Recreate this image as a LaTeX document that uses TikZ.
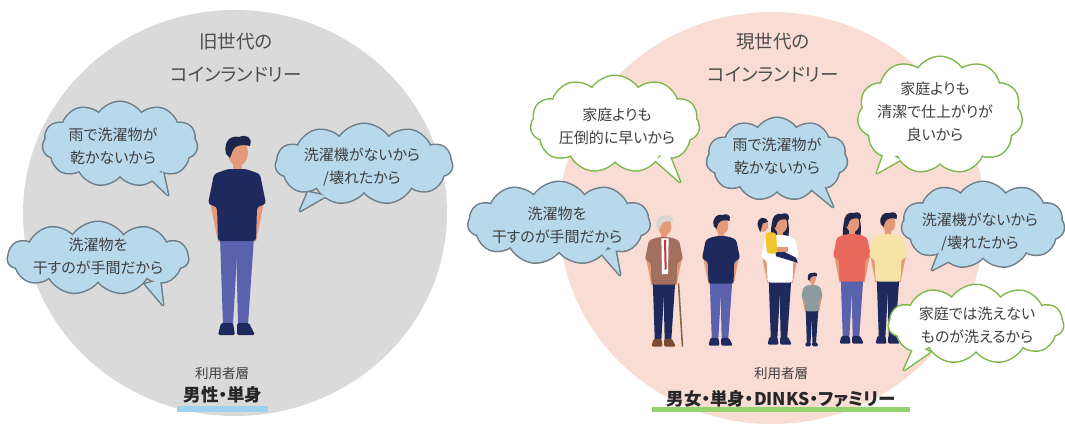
\documentclass[tikz,border=0pt]{standalone}
\usepackage{fontspec}
\setmainfont{Noto Sans CJK JP}[RawFeature=+palt]
\usetikzlibrary{shapes.symbols}

\definecolor{oldbg}{HTML}{DADADA}
\definecolor{newbg}{HTML}{F9DCD3}
\definecolor{bubblefill}{HTML}{B7D9EB}
\definecolor{bubbleedge}{HTML}{6E7E88}
\definecolor{greenedge}{HTML}{7DB84A}
\definecolor{inktext}{HTML}{3F3F3F}
\definecolor{titletext}{HTML}{4D4D4D}
\definecolor{bluebar}{HTML}{9DD3EE}
\definecolor{greenbar}{HTML}{93D36D}
\definecolor{navy}{HTML}{1E2A5E}
\definecolor{denim}{HTML}{5A62AE}
\definecolor{skin}{HTML}{E49A78}
\definecolor{hairdark}{HTML}{1F2548}
\definecolor{hairgrey}{HTML}{D9D6D2}
\definecolor{cardigan}{HTML}{A3705F}
\definecolor{coral}{HTML}{E8695B}
\definecolor{butter}{HTML}{F6E3A6}
\definecolor{shirtgray}{HTML}{8D9B9F}
\definecolor{sunny}{HTML}{F2C52E}
\definecolor{shoebrown}{HTML}{7A4A2C}
\definecolor{tiered}{HTML}{C8323A}
\definecolor{canebrown}{HTML}{8A6A4A}

% cloud-shaped speech bubble: name, centre, width, height, tail base, tip, tail base, edge colour, fill colour
\newcommand{\talkcloud}[9]{%
  \node[puffy, minimum width=#3, minimum height=#4, draw=#8, line width=3pt] (#1) at (#2) {};
  \draw[#8, line width=3pt, line join=round] (#5) -- (#6) -- (#7) -- cycle;
  \node[puffy, minimum width=#3, minimum height=#4, fill=#9] at (#1) {};
  \fill[#9] (#5) -- (#6) -- (#7) -- cycle;
}

\tikzset{
  puffy/.style={cloud, cloud puffs=11, cloud puff arc=115, cloud ignores aspect,
    inner sep=0pt, outer sep=0pt},
  cloudtext/.style={align=center, inner sep=0pt, text=inktext,
    font=\fontsize{15}{23}\selectfont},
  titletxt/.style={align=center, inner sep=0pt, text=titletext,
    font=\fontsize{18.5}{33}\selectfont},
  smalltxt/.style={inner sep=0pt, text=inktext, font=\fontsize{13.5}{16}\selectfont},
  groupTxt/.style={inner sep=0pt, text=black!85, font=\bfseries\fontsize{17.5}{20}\selectfont},
  person shirt/.store in=\pshirt,
  person pants/.store in=\ppants,
  person hair/.store in=\phair,
  person shoes/.store in=\pshoes,
  person shirt=navy, person pants=denim, person hair=hairdark, person shoes=navy,
  person/.pic={
    % arms
    \fill[skin] (-28,-140) -- (-20,-140) -- (-13,-98) -- (-19,-95) -- cycle;
    \fill[skin] (20,-140) -- (28,-140) -- (19,-95) -- (13,-98) -- cycle;
    % legs
    \fill[\ppants] (-17,-100) -- (1,-100) -- (-4,-12) -- (-14,-12) -- cycle;
    \fill[\ppants] (-1,-100) -- (17,-100) -- (11,-12) -- (1,-12) -- cycle;
    % shoes
    \fill[\pshoes, rounded corners=1.5] (-16,-14) -- (-4,-14) -- (-2,-2) -- (-19,-2) -- cycle;
    \fill[\pshoes, rounded corners=1.5] (0,-14) -- (12,-14) -- (18,-2) -- (0,-2) -- cycle;
    % neck
    \fill[skin] (-4,-175) rectangle (5,-163);
    % shirt
    \fill[\pshirt, rounded corners=3] (-9,-168) -- (9,-168) -- (23,-163) -- (29,-133)
      -- (20,-130) -- (19,-96) -- (-19,-96) -- (-20,-130) -- (-29,-133) -- (-23,-163) -- cycle;
    % head
    \fill[skin] (1,-184) ellipse [x radius=10, y radius=13];
    % hair
    \fill[\phair] (-11,-183) .. controls (-14,-196) and (-6,-202) .. (2,-200)
      .. controls (9,-203) and (16,-200) .. (13,-191)
      .. controls (6,-193) and (-2,-192) .. (-4,-187) -- (-7,-179) -- cycle;
  },
  long hair/.pic={
    \fill[hairdark] (-12,-188) .. controls (-16,-165) and (-14,-150) .. (-6,-146)
      -- (10,-146) .. controls (14,-165) and (15,-185) .. (10,-196) -- cycle;
  }
}

\begin{document}
\begin{tikzpicture}[x=1pt, y=-1pt]
\useasboundingbox (0,0) rectangle (1065,428);

% backgrounds of the two eras
\fill[oldbg] (235,213) ellipse [x radius=212, y radius=203];
\fill[newbg] (772,218) ellipse [x radius=213, y radius=206];

% titles
\node[titletxt] (oldtitle) at (236,58) {旧世代の\\コインランドリー};
\node[titletxt] (newtitle) at (773,58) {現世代の\\コインランドリー};

% single man of the old era
\pic at (237,337) {person};

% present-day users
\begin{scope}[shift={(664,348)}, scale=0.66, transform shape]
  \pic[person shirt=cardigan, person pants=navy, person hair=hairgrey, person shoes=shoebrown] {person};
  \fill[white] (-4,-166) -- (7,-166) -- (6,-112) -- (-3,-112) -- cycle;
  \fill[tiered] (0,-164) -- (3,-164) -- (4,-120) -- (1,-118) -- cycle;
  \draw[canebrown, line width=1.6pt] (22,-98) -- (28,-2);
\end{scope}
\pic[scale=0.66] at (721,347) {person};
\begin{scope}[shift={(780,346)}, scale=0.66, transform shape]
  \pic {long hair};
  \pic[person shirt=white, person pants=navy] {person};
  % daughter in her arms
  \fill[navy] (-8,-150) -- (24,-134) -- (27,-126) -- (-6,-136) -- cycle;
  \fill[sunny, rounded corners=3] (-22,-172) -- (-6,-172) -- (-4,-140) -- (-20,-140) -- cycle;
  \fill[skin] (-26,-183) ellipse [x radius=8, y radius=10];
  \fill[hairdark] (-34,-184) .. controls (-34,-196) and (-22,-198) .. (-18,-188)
    -- (-26,-186) -- (-30,-172) -- cycle;
  \fill[skin] (-4,-150) rectangle (12,-142);
\end{scope}
\pic[scale=0.37, person shirt=shirtgray, person pants=navy] at (812,347) {person};
\begin{scope}[shift={(852,345)}, scale=0.66, transform shape]
  \pic {long hair};
  \pic[person shirt=coral, person pants=denim] {person};
\end{scope}
\pic[scale=0.66, person shirt=butter, person pants=navy] at (888,345) {person};

% reasons of the old era
\talkcloud{oldA}{120,144}{154}{84}{148,176}{168,195}{163,172}{bubbleedge}{bubblefill}
\talkcloud{oldB}{364,164}{176}{80}{308,192}{300,211}{326,196}{bubbleedge}{bubblefill}
\talkcloud{oldC}{98,258}{180}{72}{145,284}{163,305}{160,280}{bubbleedge}{bubblefill}
\node[cloudtext] at (113,146) {雨で洗濯物が\\乾かないから};
\node[cloudtext] at (362,167) {洗濯機がないから\\/壊れたから};
\node[cloudtext] at (98,256) {洗濯物を\\干すのが手間だから};

% reasons of the present era
\talkcloud{newA}{615,124}{168}{96}{655,160}{680,182}{668,152}{greenedge}{white}
\talkcloud{newB}{777,159}{140}{82}{810,188}{833,207}{822,182}{bubbleedge}{bubblefill}
\talkcloud{newC}{940,115}{164}{116}{885,150}{877,173}{900,160}{greenedge}{white}
\talkcloud{newD}{559,223}{181}{82}{600,252}{620,275}{615,248}{bubbleedge}{bubblefill}
\talkcloud{newE}{983,225}{162}{86}{940,250}{932,270}{955,258}{bubbleedge}{bubblefill}
\talkcloud{newF}{976,324}{174}{78}{915,345}{904,370}{930,352}{greenedge}{white}
\node[cloudtext] at (617,126) {家庭よりも\\圧倒的に早いから};
\node[cloudtext] at (777,156) {雨で洗濯物が\\乾かないから};
\node[cloudtext] at (935,112) {家庭よりも\\清潔で仕上がりが\\良いから};
\node[cloudtext] at (557,225) {洗濯物を\\干すのが手間だから};
\node[cloudtext] at (980,232) {洗濯機がないから\\/壊れたから};
\node[cloudtext] at (977,325) {家庭では洗えない\\ものが洗えるから};

% user groups
\fill[bluebar] (177,406) rectangle (268,412);
\fill[greenbar] (652,407) rectangle (910,412);
\node[smalltxt] (oldlabel) at (222,373) {利用者層};
\node[groupTxt] (oldgroup) at (223,395) {男性・単身};
\node[smalltxt] (newlabel) at (781,373) {利用者層};
\node[groupTxt] (newgroup) at (781,399) {男女・単身・DINKS・ファミリー};
\end{tikzpicture}
\end{document}
